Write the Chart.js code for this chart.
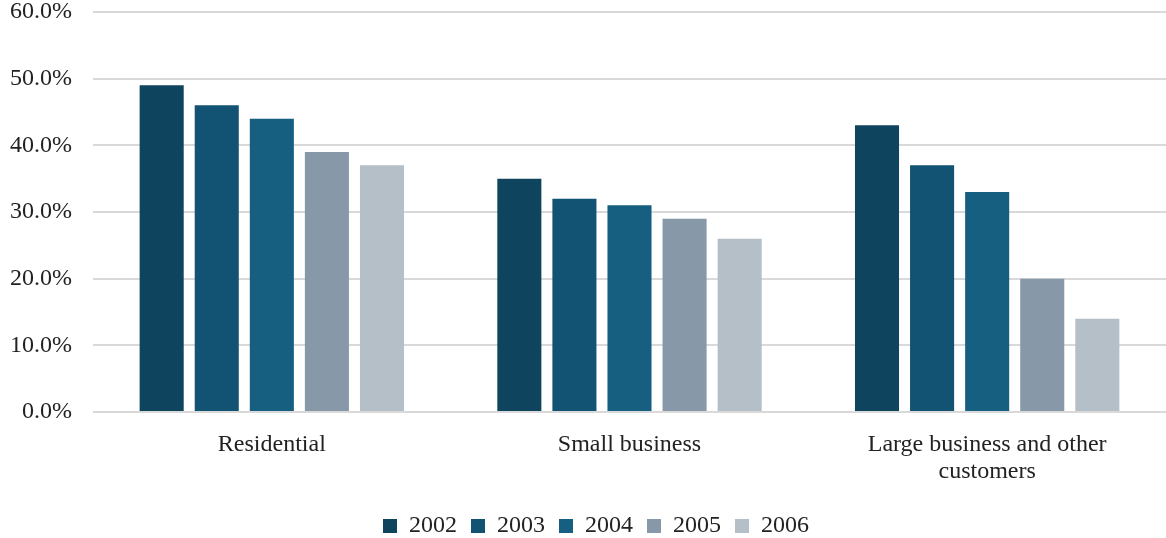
<!DOCTYPE html>
<html>
<head>
<meta charset="utf-8">
<script src="https://cdn.jsdelivr.net/npm/chart.js@4"></script>
<style>
    html, body { margin: 0; padding: 0; background: #fff; }
    #wrap { width: 1166px; height: 538px; }
</style>
</head>
<body>
<div id="wrap"><canvas id="shareChart"></canvas></div>
<script>
// Data (percent)
const categories = ['Residential', 'Small business', ['Large business and other', 'customers']];
const years = ['2002', '2003', '2004', '2005', '2006'];
const values2002 = [49, 35, 43];
const values2003 = [46, 32, 37];
const values2004 = [44, 31, 33];
const values2005 = [39, 29, 20];
const values2006 = [37, 26, 14];
const yTicks = [0, 10, 20, 30, 40, 50, 60];

const colors = ['#0f445e', '#125273', '#165f80', '#8799a9', '#b5bfc8'];
const series = [values2002, values2003, values2004, values2005, values2006];

const serif = '"Liberation Serif", "Times New Roman", serif';
Chart.defaults.font.family = serif;
Chart.defaults.color = '#222';

// nudge the legend a little to the right, like the original
const legendShift = {
    id: 'legendShift',
    afterLayout: function(chart) {
        if (chart.legend) {
            chart.legend.left += 26;
        }
    }
};

new Chart(document.getElementById('shareChart'), {
    type: 'bar',
    data: {
        labels: categories,
        datasets: series.map(function(vals, i) {
            return {
                label: years[i],
                data: vals,
                backgroundColor: colors[i],
                barPercentage: 0.8,
                categoryPercentage: 0.77
            };
        })
    },
    options: {
        responsive: true,
        maintainAspectRatio: false,
        animation: false,
        layout: { padding: { top: 0, right: 0, left: 0, bottom: -10 } },
        plugins: {
            legend: {
                position: 'bottom',
                labels: {
                    boxWidth: 14,
                    boxHeight: 14,
                    padding: 14,
                    font: { size: 24, family: serif },
                    color: '#222'
                }
            },
            tooltip: { enabled: false }
        },
        scales: {
            x: {
                afterFit: function(scale) { scale.height = 88; },
                grid: { display: false },
                border: { display: false },
                ticks: {
                    padding: 11,
                    font: { size: 24, family: serif, lineHeight: 1.13 },
                    color: '#222'
                }
            },
            y: {
                min: 0,
                max: 60,
                afterFit: function(scale) {
                    scale.width = 93;
                    scale.paddingTop = 12;
                },
                afterBuildTicks: function(scale) {
                    scale.ticks = yTicks.map(function(v) { return { value: v }; });
                },
                grid: { color: '#d9d9d9', lineWidth: 2, drawTicks: false },
                border: { display: false },
                ticks: {
                    padding: 21,
                    font: { size: 24, family: serif },
                    color: '#222',
                    callback: function(v) { return v.toFixed(1) + '%'; }
                }
            }
        }
    },
    plugins: [legendShift]
});
</script>
</body>
</html>
